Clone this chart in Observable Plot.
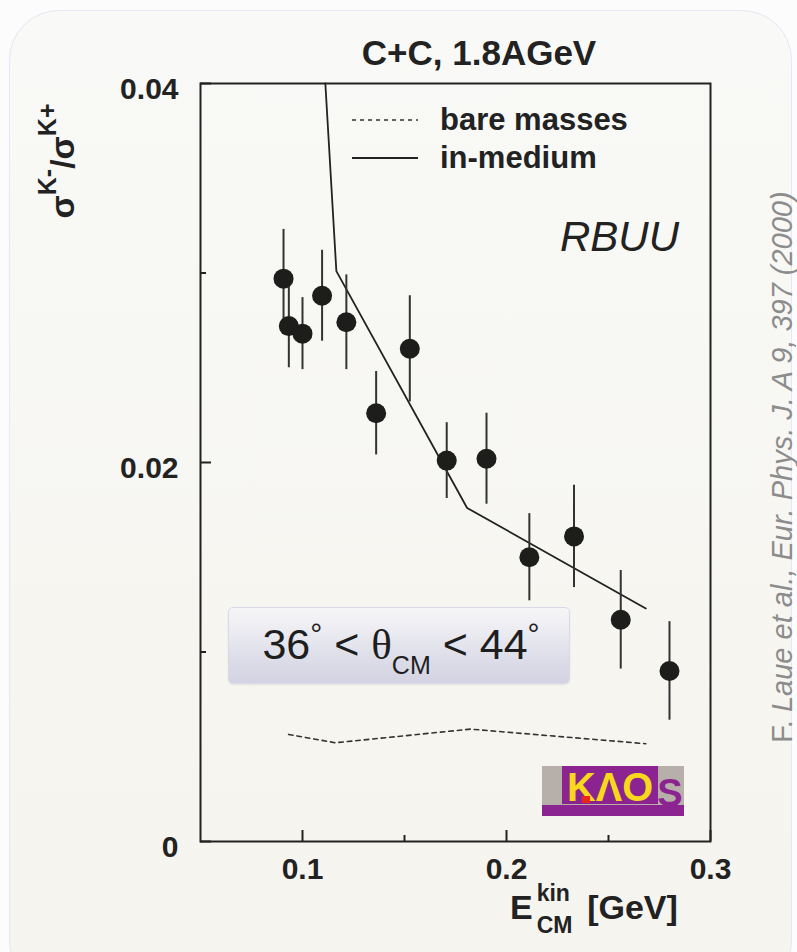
<!DOCTYPE html>
<html>
<head>
<meta charset="utf-8">
<script src="https://cdn.jsdelivr.net/npm/d3@7"></script>
<script src="https://cdn.jsdelivr.net/npm/@observablehq/plot@0.6"></script>
<style>
  body { margin: 0; background: #fcfcfc; }
  #wrap { position: relative; width: 797px; height: 952px; overflow: hidden;
          font-family: "Liberation Sans", Arial, Helvetica, sans-serif; color: #222; }
  .abs { position: absolute; white-space: nowrap; line-height: 1; }
</style>
</head>
<body>
<div id="wrap">
  <div class="abs" style="left:9px;top:10px;width:781px;height:980px;border-radius:50px;background:linear-gradient(#f9f9f7,#f5f4ee);border:1px solid #e6e6f5;"></div>
  <div id="chart" class="abs" style="left:0;top:0"></div>
</div>
<script>
// ---- data ----
const energy = [0.0907, 0.0933, 0.1000, 0.1096, 0.1215, 0.1361, 0.1526, 0.1707, 0.1902, 0.2112, 0.2331, 0.2560, 0.2799];
const ratio  = [0.0297, 0.0272, 0.0268, 0.0288, 0.0274, 0.0226, 0.0260, 0.0201, 0.0202, 0.0150, 0.0161, 0.0117, 0.0090];
const ratioErr = [0.0026, 0.0022, 0.0019, 0.0024, 0.0025, 0.0022, 0.0028, 0.0020, 0.0024, 0.0023, 0.0027, 0.0026, 0.0026];

const inMediumE = [0.1112, 0.1166, 0.1807, 0.2683];
const inMedium  = [0.0400, 0.0301, 0.0176, 0.0123];

const bareE = [0.0932, 0.1161, 0.1823, 0.2683];
const bare  = [0.00565, 0.00521, 0.00593, 0.00516];

const xMajor = [0.1, 0.2, 0.3];
const xMinor = [0.15, 0.25];
const yMajor = [0, 0.02, 0.04];
const yMinor = [0.01, 0.03];

const points = energy.map((e, i) => ({e, r: ratio[i], lo: ratio[i] - ratioErr[i], hi: ratio[i] + ratioErr[i]}));
const medium = inMediumE.map((e, i) => ({e, r: inMedium[i]}));
const bareLine = bareE.map((e, i) => ({e, r: bare[i]}));

const FONT = "'Liberation Sans', Arial, Helvetica, sans-serif";

const chart = Plot.plot({
  width: 797,
  height: 952,
  marginLeft: 200,
  marginRight: 87,
  marginTop: 83,
  marginBottom: 111,
  style: {background: "transparent", fontFamily: FONT, fontWeight: "bold", color: "#222", overflow: "visible"},
  x: {domain: [0.05, 0.3], label: null},
  y: {domain: [0, 0.04], label: null},
  marks: [
    Plot.axisX(xMajor, {tickSize: -11, strokeWidth: 2, tickFormat: () => "", label: null}),
    Plot.axisX(xMinor, {tickSize: -6, strokeWidth: 2, tickFormat: () => "", label: null}),
    Plot.axisX(xMajor, {tickSize: 0, tickPadding: 16, fontSize: 30, fontWeight: "bold", tickFormat: d => d.toFixed(1), label: null}),
    Plot.axisY(yMajor, {tickSize: -11, strokeWidth: 2, tickFormat: () => "", label: null}),
    Plot.axisY(yMinor, {tickSize: -6, strokeWidth: 2, tickFormat: () => "", label: null}),
    Plot.axisY(yMajor, {tickSize: 0, tickPadding: 22, dy: 6, fontSize: 30, fontWeight: "bold", tickFormat: d => d === 0 ? "0" : d.toFixed(2), label: null}),
    Plot.frame({stroke: "#222", strokeWidth: 2}),
    Plot.line(bareLine, {x: "e", y: "r", stroke: "#333", strokeWidth: 1.6, strokeDasharray: "4.5,4"}),
    Plot.line(medium, {x: "e", y: "r", stroke: "#222", strokeWidth: 1.8}),
    Plot.ruleX(points, {x: "e", y1: "lo", y2: "hi", stroke: "#333", strokeWidth: 2}),
    Plot.dot(points, {x: "e", y: "r", r: 10, fill: "#1d1d1b", stroke: "none"})
  ]
});
document.getElementById("chart").appendChild(chart);

// ---- overlays: titles, legend, annotations ----
const wrap = document.getElementById("wrap");
function add(html) { wrap.insertAdjacentHTML("beforeend", html); }

add(`<div class="abs" style="left:479px;top:52px;transform:translate(-50%,-50%);font-weight:bold;font-size:35px;">C+C, 1.8AGeV</div>`);

// legend
add(`<svg class="abs" style="left:350px;top:105px" width="72" height="70">
  <line x1="2" x2="68" y1="15" y2="15" stroke="#333" stroke-width="1.6" stroke-dasharray="4,4"/>
  <line x1="2" x2="68" y1="53" y2="53" stroke="#222" stroke-width="1.8"/>
</svg>`);
add(`<div class="abs" style="left:440px;top:120px;transform:translateY(-52%);font-weight:bold;font-size:31px;">bare masses</div>`);
add(`<div class="abs" style="left:440px;top:158px;transform:translateY(-52%);font-weight:bold;font-size:31px;">in-medium</div>`);

// RBUU
add(`<div class="abs" style="left:679px;top:237px;transform:translate(-100%,-50%);font-style:italic;font-size:42px;">RBUU</div>`);

// angle box
add(`<div class="abs" style="left:228px;top:607px;width:340px;height:75px;border-radius:5px;border:1px solid #d9d9ea;background:linear-gradient(#f6f6f8,#d2d2e2);box-shadow:0 1px 2px rgba(0,0,0,0.08);"></div>`);
add(`<div class="abs" style="left:401px;top:648px;transform:translate(-50%,-50%);font-size:43px;color:#1e1e1e;">36<span style="font-size:30px;vertical-align:15px">°</span> &lt; <span style="font-family:'Liberation Serif','DejaVu Serif',serif;">θ</span><span style="font-size:25px;vertical-align:-15px">CM</span> &lt; 44<span style="font-size:30px;vertical-align:15px">°</span></div>`);

// KAOS logo
add(`<svg class="abs" style="left:542px;top:766px" width="142" height="50" viewBox="0 0 142 50">
  <rect x="0" y="0" width="142" height="50" fill="#b7afaa"/>
  <rect x="20" y="0" width="96" height="38" fill="#8b2490"/>
  <rect x="0" y="39" width="142" height="11" fill="#8b2490"/>
  <text x="68" y="35" text-anchor="middle" font-family="'Liberation Sans',Arial,sans-serif" font-weight="bold" font-size="40" fill="#f7d81a" textLength="86" lengthAdjust="spacingAndGlyphs">KΛO</text>
  <rect x="40" y="30" width="8" height="7" fill="#e8261c"/>
  <text x="128" y="40" text-anchor="middle" font-family="'Liberation Sans',Arial,sans-serif" font-weight="bold" font-size="38" fill="#8b2490">S</text>
</svg>`);

// x-axis title
add(`<div class="abs" style="left:510px;top:907px;transform:translateY(-50%);font-weight:bold;font-size:34px;">E<span style="display:inline-block;position:relative;width:45px;height:1px;"><span style="position:absolute;left:4px;top:-36px;font-size:23px;">kin</span><span style="position:absolute;left:4px;top:-4px;font-size:23px;">CM</span></span> [GeV]</div>`);

// y-axis title (rotated)
add(`<div class="abs" style="left:57px;top:161px;transform:translate(-50%,-50%) rotate(-90deg);font-weight:bold;font-size:34px;">σ<span style="font-size:25px;vertical-align:18px">K-</span>/σ<span style="font-size:25px;vertical-align:18px">K+</span></div>`);

// citation (rotated)
add(`<div class="abs" style="left:782px;top:467px;transform:translate(-50%,-50%) rotate(-90deg);font-size:29px;color:#8c8c8c;">F. <i>Laue et al., Eur. Phys. J. A 9, 397 (2000)</i></div>`);
</script>
</body>
</html>
